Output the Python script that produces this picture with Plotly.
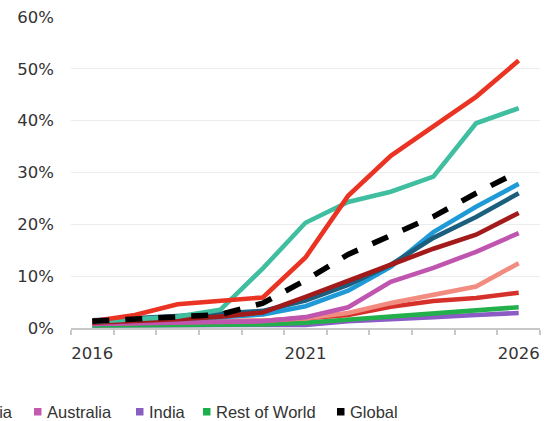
import plotly.graph_objects as go

# Share of sales by region, 2016-2026 (percent)
years = list(range(2016, 2027))

china = [1.3, 2.5, 4.6, 5.3, 5.9, 13.6, 25.5, 33.2, 38.8, 44.6, 51.6]
europe = [1.2, 1.6, 2.2, 3.5, 11.5, 20.3, 24.3, 26.3, 29.2, 39.5, 42.4]
usa = [1.3, 1.5, 1.8, 2.1, 2.6, 4.2, 7.2, 11.8, 18.5, 23.4, 27.8]
canada = [1.5, 1.8, 2.3, 2.8, 3.3, 5.3, 8.3, 12.2, 17.4, 21.4, 26.0]
japan = [1.0, 1.3, 1.7, 2.2, 3.0, 6.0, 9.0, 12.2, 15.3, 18.0, 22.2]
south_korea = [0.9, 1.0, 1.1, 1.2, 1.4, 1.9, 2.5, 4.1, 5.2, 5.8, 6.8]
other_asia = [0.9, 1.0, 1.1, 1.2, 1.4, 1.9, 2.9, 4.8, 6.4, 8.0, 12.5]
australia = [0.8, 0.9, 1.0, 1.1, 1.3, 2.1, 4.0, 8.9, 11.6, 14.7, 18.3]
india = [0.5, 0.5, 0.5, 0.5, 0.5, 0.6, 1.3, 1.8, 2.1, 2.5, 2.9]
rest_of_world = [0.5, 0.5, 0.6, 0.6, 0.7, 1.0, 1.6, 2.1, 2.6, 3.3, 4.0]
global_share = [1.3, 1.7, 2.1, 2.6, 4.8, 9.2, 14.2, 17.9, 21.5, 26.0, 30.2]

y_ticks = [0, 10, 20, 30, 40, 50, 60]
y_tick_labels = [f"{v}%" for v in y_ticks]
x_ticks = [2016, 2021, 2026]

# (name, values, colour, dash) in drawing order, bottom first
series = [
    ("India", india, "#8b5cc4", "solid"),
    ("Rest of World", rest_of_world, "#22b04b", "solid"),
    ("South Korea", south_korea, "#d5302a", "solid"),
    ("Other Asia", other_asia, "#f28b80", "solid"),
    ("Australia", australia, "#c055b0", "solid"),
    ("USA", usa, "#1f9ad6", "solid"),
    ("Canada", canada, "#1b5e7e", "solid"),
    ("Japan", japan, "#a21a1a", "solid"),
    ("Europe", europe, "#40bea0", "solid"),
    ("China", china, "#ea3323", "solid"),
    ("Global", global_share, "#000000", "17px,16px"),
]

fig = go.Figure()
for name, vals, color, dash in series:
    fig.add_trace(go.Scatter(
        x=years, y=vals, name=name, mode="lines",
        line=dict(color=color, width=4.6 if dash == "solid" else 5.5, dash=dash),
        showlegend=False,
    ))

# Legend row drawn below the plot (pixel positions of the swatches)
legend_items = [
    ("Other Asia", "#f28b80", -78),
    ("Australia", "#c45aae", 34),
    ("India", "#8a5ec0", 136),
    ("Rest of World", "#1cb04c", 203),
    ("Global", "#000000", 337),
]

W, H = 544, 421
L, R, T, B = 71, 4, 17, 93
pw, ph = W - L - R, H - T - B


def px_to_paper(px, py):
    return (px - L) / pw, (H - B - py) / ph


shapes = []
annotations = []
for name, color, sx in legend_items:
    x0, y0 = px_to_paper(sx, 415.5)
    x1, y1 = px_to_paper(sx + 7.5, 408)
    shapes.append(dict(type="rect", xref="paper", yref="paper",
                       x0=x0, x1=x1, y0=y0, y1=y1,
                       fillcolor=color, line=dict(width=0)))
    tx, ty = px_to_paper(sx + 10.5, 412)
    annotations.append(dict(xref="paper", yref="paper", x=tx, y=ty,
                            xanchor="left", yanchor="middle", showarrow=False,
                            text=name,
                            font=dict(family="Liberation Sans", size=16.5, color="#333333")))

fig.update_layout(
    width=W, height=H,
    margin=dict(l=L, r=R, t=T, b=B),
    plot_bgcolor="white", paper_bgcolor="white",
    shapes=shapes, annotations=annotations,
    showlegend=False,
    xaxis=dict(
        range=[2015.5, 2026.5], tickvals=x_ticks, ticktext=[str(v) for v in x_ticks],
        ticks="outside", ticklen=0, tickcolor="rgba(0,0,0,0)",
        showgrid=False, zeroline=False,
        showline=True, linecolor="#c8c8c8", linewidth=1.5,
        minor=dict(ticks="outside", tick0=2015.5, dtick=1, ticklen=5,
                   tickcolor="#c8c8c8", tickwidth=1.5, showgrid=False),
        tickfont=dict(family="DejaVu Sans", size=16.5, color="#333333"),
        ticklabelstandoff=9,
    ),
    yaxis=dict(
        range=[0, 60], tickvals=y_ticks, ticktext=y_tick_labels,
        showgrid=True, gridcolor="#ececec", gridwidth=1,
        zeroline=False, showline=False, ticks="",
        tickfont=dict(family="DejaVu Sans", size=16.5, color="#333333"),
        ticklabelstandoff=16,
    ),
)

fig.write_html("out.html")
